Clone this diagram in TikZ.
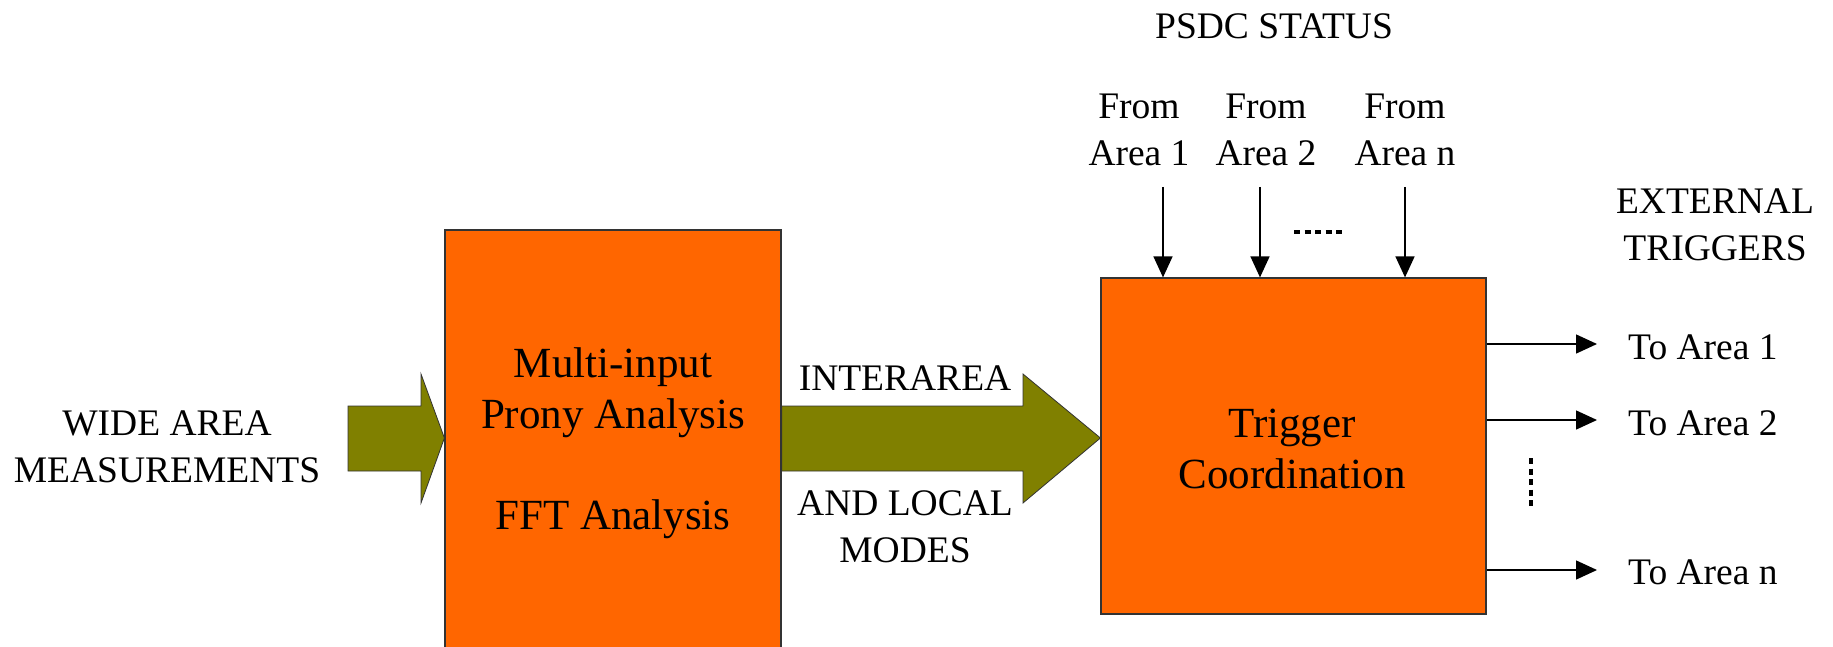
\documentclass[tikz,border=0pt]{standalone}
\usepackage{fontspec}
\setmainfont{Liberation Serif}
\usetikzlibrary{arrows.meta}
\definecolor{boxorange}{HTML}{FF6600}
\definecolor{olivearrow}{HTML}{808000}
\tikzset{
  procbox/.style={draw=black!80, line width=1.2pt, fill=boxorange, inner sep=0pt},
  fatarrow/.style={draw=black!80, line width=0.8pt, fill=olivearrow},
  lbl/.style={font=\fontsize{37.5}{47}\selectfont, align=center, inner sep=0pt},
  boxlbl/.style={font=\fontsize{43}{51}\selectfont, align=center, inner sep=0pt},
  sig/.style={line width=1.4pt, -{Triangle[length=21pt,width=19pt]}},
  dotrow/.style={line width=4.5pt, dash pattern=on 6pt off 4.5pt}
}
\begin{document}
\begin{tikzpicture}[x=1pt,y=-1pt]
\useasboundingbox (0,0) rectangle (1833,647);
\clip (0,0) rectangle (1833,647);

% processing blocks
\node[procbox, minimum width=336pt, minimum height=430pt] (prony) at (613,445) {};
\node[procbox, minimum width=385pt, minimum height=336pt] (trig) at (1293.5,446) {};

% input arrow into the analysis block
\filldraw[fatarrow] (348,406) -- (421,406) -- (421,374) -- (prony.west |- 0,438)
  -- (421,503) -- (421,471) -- (348,471) -- cycle;
% modes arrow between the blocks
\filldraw[fatarrow] (prony.east |- 0,406) -- (1023,406) -- (1023,374) -- (trig.west |- 0,438)
  -- (1023,503) -- (1023,471) -- (prony.east |- 0,471) -- cycle;

% block labels
\node[boxlbl] (pronytxt) at (613,393) {Multi-input\\Prony Analysis};
\node[boxlbl] (ffttxt) at (613,519) {FFT Analysis};
\node[boxlbl] (trigtxt) at (1292,449) {Trigger\\Coordination};

% left input label
\node[lbl] (wam) at (167,447) {WIDE AREA\\MEASUREMENTS};
% labels around the modes arrow
\node[lbl] (inter) at (905,378) {INTERAREA};
\node[lbl] (local) at (905,527) {AND LOCAL\\MODES};

% PSDC status inputs
\node[lbl] (psdc) at (1274,26) {PSDC STATUS};
\node[lbl] (from1) at (1139,130) {From\\Area 1};
\node[lbl] (from2) at (1266,130) {From\\Area 2};
\node[lbl] (fromn) at (1405,130) {From\\Area n};
\coordinate (s1) at (1163,187);
\coordinate (s2) at (1260,187);
\coordinate (sn) at (1405,187);
\draw[sig] (s1) -- (s1 |- trig.north);
\draw[sig] (s2) -- (s2 |- trig.north);
\draw[sig] (sn) -- (sn |- trig.north);
\coordinate (hd1) at (1294,232);
\coordinate (hd2) at (1343,232);
\draw[dotrow] (hd1) -- (hd2);

% external trigger outputs
\node[lbl] (ext) at (1715,225) {EXTERNAL\\TRIGGERS};
\node[lbl, anchor=west] (to1) at (1628,347) {To Area 1};
\node[lbl, anchor=west] (to2) at (1628,423) {To Area 2};
\node[lbl, anchor=west] (ton) at (1628,572) {To Area n};
\coordinate (o1) at (1597,344);
\coordinate (o2) at (1597,420);
\coordinate (on) at (1597,570);
\draw[sig] (trig.east |- o1) -- (o1);
\draw[sig] (trig.east |- o2) -- (o2);
\draw[sig] (trig.east |- on) -- (on);
\coordinate (vd1) at (1531,458);
\coordinate (vd2) at (1531,506);
\draw[dotrow] (vd1) -- (vd2);
\end{tikzpicture}
\end{document}
